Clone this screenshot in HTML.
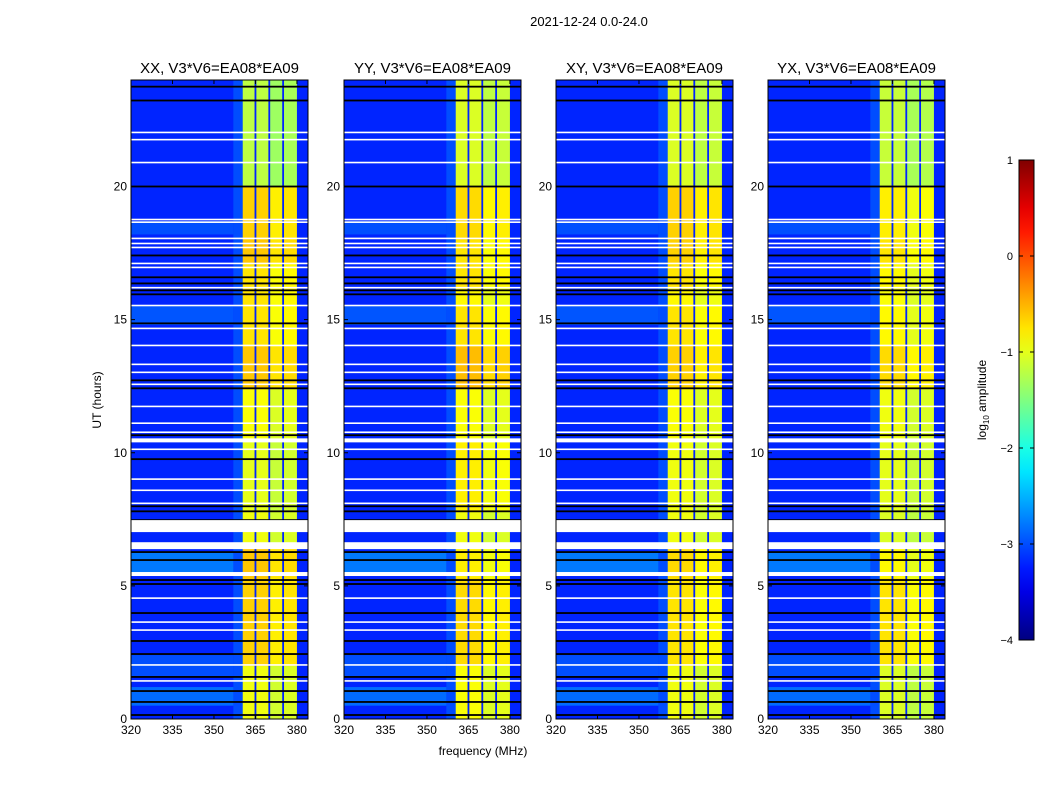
<!DOCTYPE html>
<html><head><meta charset="utf-8"><style>
body{margin:0;background:#fff;}
svg{display:block;font-family:"Liberation Sans",sans-serif;}
</style></head><body>
<svg id="fig" width="1050" height="800" viewBox="0 0 1050 800">
<rect width="1050" height="800" fill="#fff"/>
<text x="589" y="26" font-size="13" text-anchor="middle">2021-12-24 0.0-24.0</text>
<text x="483" y="755" font-size="12" text-anchor="middle">frequency (MHz)</text>
<text transform="translate(101,400) rotate(-90)" font-size="12" text-anchor="middle">UT (hours)</text>
<text transform="translate(986,400) rotate(-90)" font-size="12" text-anchor="middle">log<tspan font-size="8" dy="3">10</tspan><tspan dy="-3"> amplitude</tspan></text>
<g id="panels"></g>
<g id="cbar"></g>
</svg>
<script>
// ---- data ----
const panelTitles = ["XX, V3*V6=EA08*EA09","YY, V3*V6=EA08*EA09","XY, V3*V6=EA08*EA09","YX, V3*V6=EA08*EA09"];
const xTicks = [320,335,350,365,380];
const yTicks = [0,5,10,15,20];
const cbarTicks = [1,0,-1,-2,-3,-4];
// frequency bands (MHz) and their base log10 amplitude
const bandStart = [320,357,360.4,365,370,375,380];
const bandEnd   = [357,360.4,365,370,375,380,384];
const bandLevel = [-3.2,-3.0,-0.95,-0.95,-1.1,-1.05,-3.2];
const bandIsRfi = [false,false,true,true,true,true,false];
// time segments (hours) with level offset for the RFI (yellow) band
const segStart = [0,2,5.3,6.4,7.8,10.5,12.4,14.0,15.5,16.2,17.1,18.0,20.0];
const segEnd   = [2,5.3,6.4,7.8,10.5,12.4,14.0,15.5,16.2,17.1,18.0,20.0,24.0];
const segXX = [0.0,0.3,0.35,0.0,-0.05,0.05,0.35,0.2,0.2,0.2,0.35,0.3,-0.25];
const segYY = [0.05,0.25,0.15,0.0,0.15,0.05,0.4,0.2,0.1,0.2,0.2,0.25,-0.1];
const segXY = [0.0,0.2,0.25,0.0,0.0,0.05,0.3,0.2,0.1,0.2,0.3,0.3,-0.1];
const segYX = [-0.1,0.2,0.1,-0.1,-0.05,0.0,0.25,0.1,0.05,0.1,0.2,0.15,-0.2];
const segOffsets = [segXX,segYY,segXY,segYX];
// elevated background patches in low band
const patchStart = [0.5,5.4,14.8,18.2,1.6];
const patchEnd   = [1.2,6.3,15.5,18.7,2.4];
const patchLevel = [-2.7,-2.6,-2.85,-2.9,-2.9];
// separator channels inside the RFI band (MHz)
const sepFreqs = [365,370,375];
// flagged rows
const blackRows = [23.75,23.23,20.0,17.41,16.59,16.36,16.10,15.95,14.86,12.72,12.42,10.66,9.76,7.99,7.80,7.47,6.27,5.97,5.22,5.07,3.98,2.93,2.44,1.58,1.05,0.64,0.15];
const whiteRows = [22.03,21.76,20.9,18.76,18.66,18.05,17.86,17.71,17.11,16.96,16.2,15.53,14.67,14.03,13.32,13.02,12.57,11.74,11.11,10.77,10.13,9.01,8.59,8.10,4.54,3.64,3.34,2.03,1.43];
const whiteBandStart = [7.02,6.38,5.37,10.39];
const whiteBandEnd   = [7.47,6.64,5.52,10.54];

// ---- layout ----
const panelX = [131,344,556,768];
const PW = 177, PT = 80, PB = 719;
const XMIN = 320, XMAX = 384, YMIN = 0, YMAX = 24;
const VMIN = -4, VMAX = 1;
const NS = "http://www.w3.org/2000/svg";
function el(tag, attrs, parent){const e=document.createElementNS(NS,tag);for(const k in attrs)e.setAttribute(k,attrs[k]);parent.appendChild(e);return e;}
function jet(v){
  let t=(v-VMIN)/(VMAX-VMIN);t=Math.max(0,Math.min(1,t));
  const c=x=>Math.round(255*Math.max(0,Math.min(1,x)));
  return `rgb(${c(1.5-Math.abs(4*t-3))},${c(1.5-Math.abs(4*t-2))},${c(1.5-Math.abs(4*t-1))})`;
}
const yS = h => PB - (h-YMIN)/(YMAX-YMIN)*(PB-PT);
const root = document.getElementById('panels');

panelTitles.forEach((title,p)=>{
  const x0 = panelX[p];
  const xS = f => x0 + (f-XMIN)/(XMAX-XMIN)*PW;
  const g = el('g',{},root);
  
  
  const cells = el('g',{},g);
  
  
  const offs = segOffsets[p];
  segStart.forEach((s,si)=>{
    bandStart.forEach((b,bi)=>{
      const lvl = bandLevel[bi] + (bandIsRfi[bi]?offs[si]:0);
      const r = el('rect',{x:xS(b),y:yS(segEnd[si]),width:xS(bandEnd[bi])-xS(b)+0.3,height:yS(s)-yS(segEnd[si])+0.3,fill:jet(lvl)},cells);
      
      
    });
  });
  patchStart.forEach((s,i)=>{
    const r = el('rect',{x:xS(320),y:yS(patchEnd[i]),width:xS(357)-xS(320),height:yS(s)-yS(patchEnd[i]),fill:jet(patchLevel[i]),opacity:0.7},cells);
    
    
  });
  sepFreqs.forEach(f=>{
    const r = el('rect',{x:xS(f)-0.9,y:PT,width:1.8,height:PB-PT,fill:jet(-3.2)},cells);
    
    
  });
  blackRows.forEach(h=>{
    const r = el('rect',{x:x0,y:yS(h)-0.9,width:PW,height:1.8,fill:'#000'},cells);
    
    
  });
  whiteRows.forEach(h=>{
    const r = el('rect',{x:x0,y:yS(h)-0.8,width:PW,height:1.6,fill:'#fff'},cells);
    
    
  });
  whiteBandStart.forEach((s,i)=>{
    const r = el('rect',{x:x0,y:yS(whiteBandEnd[i]),width:PW,height:yS(s)-yS(whiteBandEnd[i]),fill:'#fff'},cells);
    
    
  });
  const frame = el('rect',{x:x0,y:PT,width:PW,height:PB-PT,fill:'none',stroke:'#000','stroke-width':1},g);
  
  
  const t = el('text',{x:x0+PW/2,y:73,'font-size':15,'text-anchor':'middle'},g);
  t.textContent = title;
  
  
  xTicks.forEach(v=>{
    const x = xS(v);
    el('line',{x1:x,x2:x,y1:PB,y2:PB-4,stroke:'#000'},g);
    el('line',{x1:x,x2:x,y1:PT,y2:PT+4,stroke:'#000'},g);
    const l = el('text',{x:x,y:PB+15,'font-size':12,'text-anchor':'middle'},g);
    l.textContent = v;
    
    
  });
  yTicks.forEach(v=>{
    const y = yS(v);
    el('line',{x1:x0,x2:x0+4,y1:y,y2:y,stroke:'#000'},g);
    el('line',{x1:x0+PW,x2:x0+PW-4,y1:y,y2:y,stroke:'#000'},g);
    const l = el('text',{x:x0-4,y:y+4,'font-size':12,'text-anchor':'end'},g);
    l.textContent = v;
    
    
  });
});

// colorbar
const cb = document.getElementById('cbar');


const CX=1019, CW=15, CT=160, CB=640;
const defs = el('defs',{},cb);
const grad = el('linearGradient',{id:'jetg',x1:0,y1:1,x2:0,y2:0},defs);
for(let i=0;i<=20;i++){el('stop',{offset:(i/20),'stop-color':jet(VMIN+(VMAX-VMIN)*i/20)},grad);}
const bar = el('rect',{x:CX,y:CT,width:CW,height:CB-CT,fill:'url(#jetg)',stroke:'#000','stroke-width':1},cb);


cbarTicks.forEach(v=>{
  const y = CB - (v-VMIN)/(VMAX-VMIN)*(CB-CT);
  el('line',{x1:CX,x2:CX+4,y1:y,y2:y,stroke:'#000'},cb);
  el('line',{x1:CX+CW,x2:CX+CW-4,y1:y,y2:y,stroke:'#000'},cb);
  const l = el('text',{x:1013,y:y+4,'font-size':11,'text-anchor':'end'},cb);
  l.textContent = v<0 ? '\u2212'+Math.abs(v) : v;
  
  
});
</script>
</body></html>
